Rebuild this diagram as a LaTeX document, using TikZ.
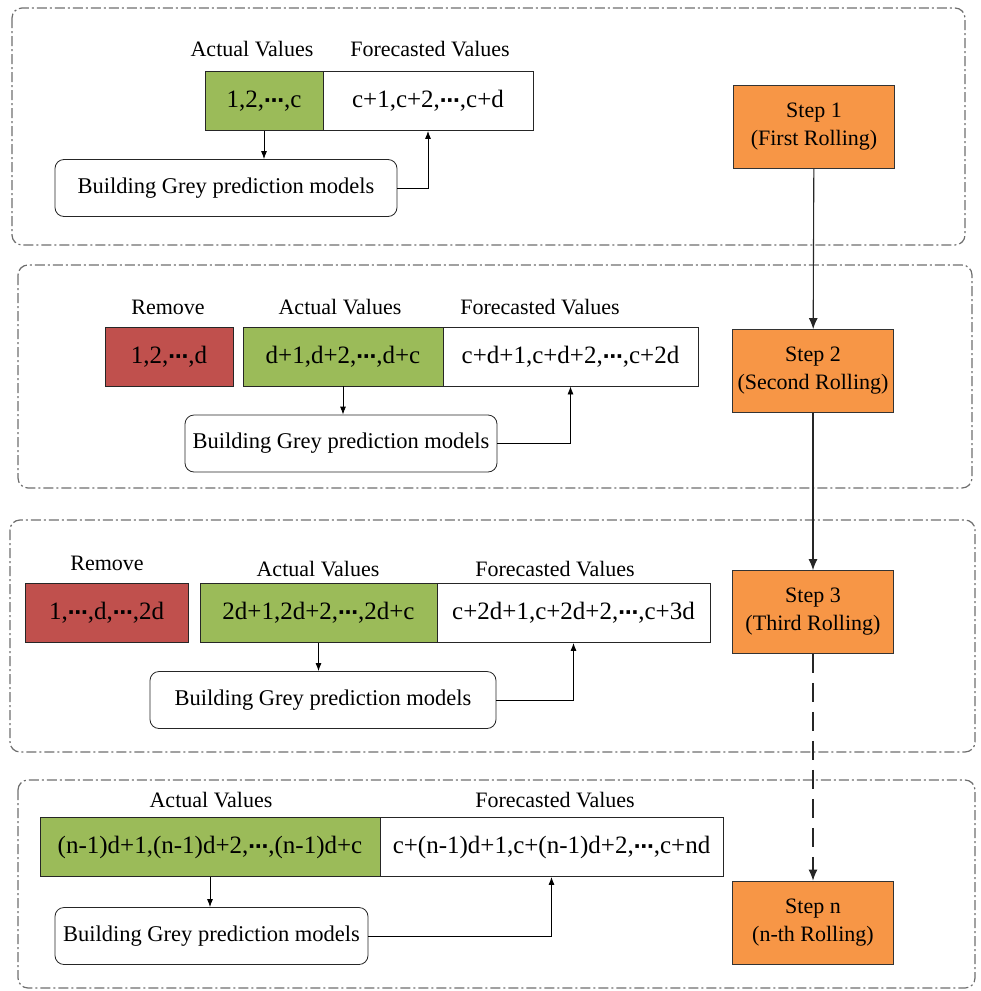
\documentclass[tikz,border=0pt]{standalone}
\usepackage{fontspec}
\setmainfont{Liberation Serif}
\newfontfamily\symfont{DejaVu Sans}
\usetikzlibrary{arrows.meta}
\definecolor{actgreen}{RGB}{155,187,89}
\definecolor{remred}{RGB}{192,80,77}
\definecolor{steporange}{RGB}{247,150,70}
\definecolor{framegray}{RGB}{110,110,110}
\newcommand{\dotsmid}{{\symfont\bfseries\fontsize{20}{20}\selectfont ⋯}}
\tikzset{
  panel/.style={draw=framegray, line width=1.2pt, rounded corners=10pt,
    dash pattern=on 10pt off 3pt on 2pt off 3pt},
  cell/.style={draw=black!85, line width=0.8pt, minimum height=59pt, inner sep=0pt,
    font=\fontsize{25}{30}\selectfont},
  actual/.style={cell, fill=actgreen},
  removed/.style={cell, fill=remred},
  forecast/.style={cell, fill=white},
  lab/.style={font=\fontsize{22}{26}\selectfont},
  model/.style={draw=black!85, line width=0.8pt, rounded corners=9pt, minimum height=57pt,
    inner sep=0pt, font=\fontsize{22.5}{27}\selectfont},
  stepbox/.style={draw=black!80, line width=0.8pt, fill=steporange, minimum width=161pt,
    minimum height=83pt, align=center, font=\fontsize{22}{28}\selectfont},
  arr/.style={-{Latex[length=8pt,width=6pt]}, line width=0.8pt},
  rollarr/.style={-{Latex[length=11pt,width=9pt]}, line width=1.1pt, draw=black!85},
}
\begin{document}
\begin{tikzpicture}[x=1pt, y=-1pt]
  \useasboundingbox (0,0) rectangle (981,991);
  % first rolling
  \draw[panel] (12,8) rectangle (965,245);
  \node[lab] (actlab1) at (252,49) {Actual Values};
  \node[lab] (forelab1) at (430,49) {Forecasted Values};
  \node[actual, minimum width=118] (act1) at (264,101) {1,2,\dotsmid,c};
  \node[forecast, minimum width=210] (fore1) at (428,101) {c+1,c+2,\dotsmid,c+d};
  \node[model, minimum width=342] (model1) at (226,188) {Building Grey prediction models};
  \node[stepbox] (step1) at (814,127) {Step 1\\(First Rolling)};
  \draw[arr] (act1.south) -- (act1.south |- model1.north);
  \draw[arr] (model1.east) -| (fore1.south);
  % second rolling
  \draw[panel] (18,265) rectangle (972,488);
  \node[lab] (remlab2) at (168,307) {Remove};
  \node[lab] (actlab2) at (340,307) {Actual Values};
  \node[lab] (forelab2) at (540,307) {Forecasted Values};
  \node[removed, minimum width=128] (rem2) at (169,356.5) {1,2,\dotsmid,d};
  \node[actual, minimum width=200] (act2) at (343,356.5) {d+1,d+2,\dotsmid,d+c};
  \node[forecast, minimum width=255] (fore2) at (570.5,356.5) {c+d+1,c+d+2,\dotsmid,c+2d};
  \node[model, minimum width=312] (model2) at (341,443.5) {Building Grey prediction models};
  \node[stepbox] (step2) at (813,371) {Step 2\\(Second Rolling)};
  \draw[arr] (act2.south) -- (act2.south |- model2.north);
  \draw[arr] (model2.east) -| (fore2.south);
  % third rolling
  \draw[panel] (10,520) rectangle (975,752);
  \node[lab] (remlab3) at (107,563) {Remove};
  \node[lab] (actlab3) at (318,569) {Actual Values};
  \node[lab] (forelab3) at (555,569) {Forecasted Values};
  \node[removed, minimum width=163] (rem3) at (106.5,613) {1,\dotsmid,d,\dotsmid,2d};
  \node[actual, minimum width=237] (act3) at (318.5,613) {2d+1,2d+2,\dotsmid,2d+c};
  \node[forecast, minimum width=273] (fore3) at (573.5,613) {c+2d+1,c+2d+2,\dotsmid,c+3d};
  \node[model, minimum width=346] (model3) at (323,700) {Building Grey prediction models};
  \node[stepbox] (step3) at (813,612) {Step 3\\(Third Rolling)};
  \draw[arr] (act3.south) -- (act3.south |- model3.north);
  \draw[arr] (model3.east) -| (fore3.south);
  % n-th rolling
  \draw[panel] (18,780) rectangle (975,988);
  \node[lab] (actlab4) at (211,800) {Actual Values};
  \node[lab] (forelab4) at (555,800) {Forecasted Values};
  \node[actual, minimum width=340] (act4) at (210,847) {(n-1)d+1,(n-1)d+2,\dotsmid,(n-1)d+c};
  \node[forecast, minimum width=343] (fore4) at (551.5,847) {c+(n-1)d+1,c+(n-1)d+2,\dotsmid,c+nd};
  \node[model, minimum width=313] (model4) at (211.5,936) {Building Grey prediction models};
  \node[stepbox] (stepn) at (813,922.5) {Step n\\(n-th Rolling)};
  \draw[arr] (act4.south) -- (act4.south |- model4.north);
  \draw[arr] (model4.east) -| (fore4.south);
  % rolling steps
  \draw[rollarr] (step1) -- (step2);
  \draw[rollarr] (step2) -- (step3);
  \draw[rollarr, dash pattern=on 19pt off 10pt] (step3) -- (stepn);
\end{tikzpicture}
\end{document}
